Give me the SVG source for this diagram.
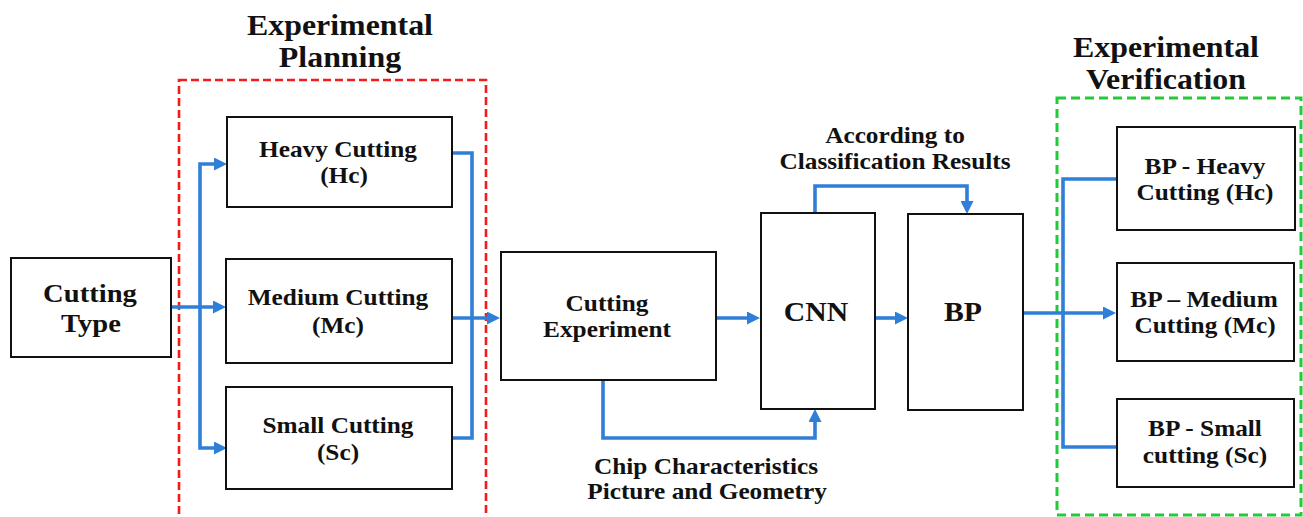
<svg xmlns="http://www.w3.org/2000/svg" width="1303" height="517" viewBox="0 0 1303 517">
<style>
.box{fill:#fff;stroke:#111;stroke-width:2}
.t{font-family:"Liberation Serif","Times New Roman",serif;font-weight:bold;fill:#111;text-anchor:middle}
.s23{font-size:23px}
.s26{font-size:26px}
.s27{font-size:27px}
.s29{font-size:29px}
.c{fill:none;stroke:#2F7FD8;stroke-width:3.6;stroke-linejoin:miter}
.ca{marker-end:url(#ah)}
</style>
<defs>
<marker id="ah" markerUnits="userSpaceOnUse" viewBox="0 0 13 13" markerWidth="13" markerHeight="13" refX="2" refY="6.5" orient="auto">
<path d="M0,0 L13,6.5 L0,13 z" fill="#2F7FD8"/>
</marker>
</defs>
<rect width="1303" height="517" fill="#fff"/>

<g id="planning-group">
<rect x="179" y="80" width="307" height="450" fill="none" stroke="#F21C1C" stroke-width="2.6" stroke-dasharray="8 4"/>
<text class="t s29" transform="translate(340,35) scale(1.1,1)">Experimental</text>
<text class="t s29" transform="translate(340,67) scale(1.1,1)">Planning</text>
</g>

<g id="verification-group">
<rect x="1057" y="98" width="244" height="417" fill="none" stroke="#22C93A" stroke-width="3" stroke-dasharray="9 5"/>
<text class="t s29" transform="translate(1166,57) scale(1.1,1)">Experimental</text>
<text class="t s29" transform="translate(1166,89) scale(1.1,1)">Verification</text>
</g>

<g id="connectors">
<!-- Cutting Type to branches -->
<path class="c ca" d="M171,307 L215,307"/>
<path class="c ca" d="M200,307 L200,164 L216,164"/>
<path class="c ca" d="M200,307 L200,448 L216,448"/>
<!-- merge to Cutting Experiment -->
<path class="c" d="M452,153 L472,153 L472,438 L452,438"/>
<path class="c ca" d="M452,318 L489,318"/>
<!-- CE to CNN -->
<path class="c ca" d="M716,318 L749,318"/>
<path class="c ca" d="M603,380 L603,438 L815,438 L815,420"/>
<!-- CNN to BP -->
<path class="c ca" d="M875,318 L897,318"/>
<path class="c ca" d="M815,213 L815,186 L967,186 L967,203"/>
<!-- BP to verification -->
<path class="c ca" d="M1023,313 L1105,313"/>
<path class="c" d="M1117,179 L1063,179 L1063,447 L1117,447"/>
<text class="t s23" transform="translate(895,143) scale(1.1,1)">According to</text>
<text class="t s23" transform="translate(895,169) scale(1.1,1)">Classification Results</text>
<text class="t s23" transform="translate(706,474) scale(1.1,1)">Chip Characteristics</text>
<text class="t s23" transform="translate(707,499) scale(1.1,1)">Picture and Geometry</text>
</g>

<g id="cutting-type">
<rect class="box" x="11" y="258" width="160" height="99"/>
<text class="t s26" transform="translate(90,302) scale(1.1,1)">Cutting</text>
<text class="t s26" transform="translate(91,332) scale(1.1,1)">Type</text>
</g>

<g id="heavy-cutting">
<rect class="box" x="227" y="117" width="225" height="90"/>
<text class="t s23" transform="translate(338,157) scale(1.1,1)">Heavy Cutting</text>
<text class="t s23" transform="translate(344,183) scale(1.1,1)">(Hc)</text>
</g>

<g id="medium-cutting">
<rect class="box" x="226" y="259" width="226" height="104"/>
<text class="t s23" transform="translate(338,305) scale(1.1,1)">Medium Cutting</text>
<text class="t s23" transform="translate(338,333) scale(1.1,1)">(Mc)</text>
</g>

<g id="small-cutting">
<rect class="box" x="226" y="387" width="226" height="102"/>
<text class="t s23" transform="translate(338,433) scale(1.1,1)">Small Cutting</text>
<text class="t s23" transform="translate(338,460) scale(1.1,1)">(Sc)</text>
</g>

<g id="cutting-experiment">
<rect class="box" x="501" y="252" width="215" height="128"/>
<text class="t s23" transform="translate(607,311) scale(1.1,1)">Cutting</text>
<text class="t s23" transform="translate(607,337) scale(1.1,1)">Experiment</text>
</g>

<g id="cnn">
<rect class="box" x="761" y="213" width="114" height="196"/>
<text class="t s27" transform="translate(816,321) scale(1.1,1)">CNN</text>
</g>

<g id="bp">
<rect class="box" x="908" y="214" width="115" height="196"/>
<text class="t s27" transform="translate(963,321) scale(1.1,1)">BP</text>
</g>

<g id="bp-heavy">
<rect class="box" x="1117" y="127" width="178" height="103"/>
<text class="t s23" transform="translate(1205,174) scale(1.1,1)">BP - Heavy</text>
<text class="t s23" transform="translate(1205,200) scale(1.1,1)">Cutting (Hc)</text>
</g>

<g id="bp-medium">
<rect class="box" x="1117" y="263" width="177" height="98"/>
<text class="t s23" transform="translate(1204,307) scale(1.1,1)">BP – Medium</text>
<text class="t s23" transform="translate(1205,333) scale(1.1,1)">Cutting (Mc)</text>
</g>

<g id="bp-small">
<rect class="box" x="1117" y="399" width="177" height="88"/>
<text class="t s23" transform="translate(1205,436) scale(1.1,1)">BP - Small</text>
<text class="t s23" transform="translate(1205,463) scale(1.1,1)">cutting (Sc)</text>
</g>
</svg>
